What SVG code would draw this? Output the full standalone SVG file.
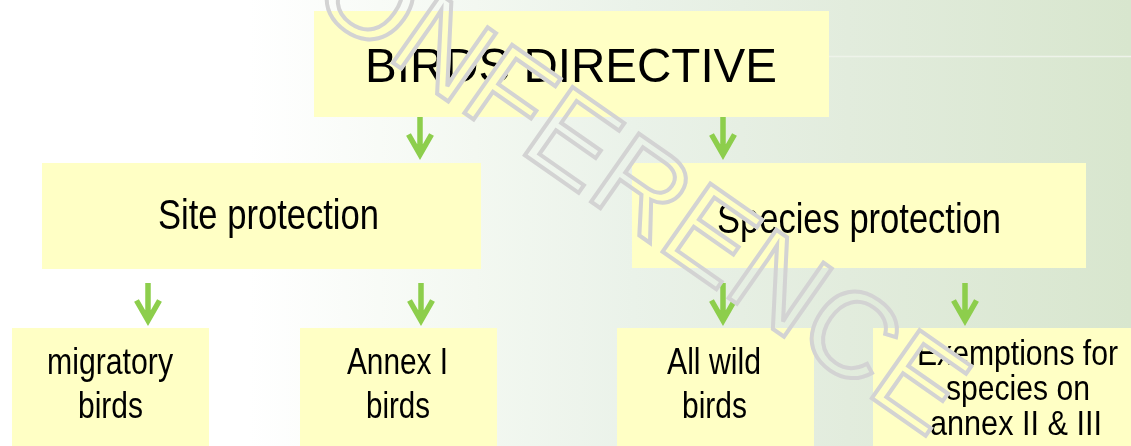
<svg xmlns="http://www.w3.org/2000/svg" width="1131" height="446" viewBox="0 0 1131 446">
  <style>
    .box { fill: #ffffc5; }
    .lbl { font-family: "Liberation Sans", Arial, sans-serif; fill: #000; text-anchor: middle; mask: url(#hole); }
    .arrow { fill: none; stroke: #8dce4c; stroke-width: 5.5; stroke-linejoin: miter; stroke-miterlimit: 10; }
  </style>
  <defs>
    <linearGradient id="bg" x1="0" y1="0" x2="1" y2="0">
      <stop offset="0" stop-color="#ffffff"/>
      <stop offset="0.22" stop-color="#ffffff"/>
      <stop offset="0.42" stop-color="#f3f8f1"/>
      <stop offset="0.56" stop-color="#eaf2e9"/>
      <stop offset="0.75" stop-color="#e2ecdd"/>
      <stop offset="1" stop-color="#d8e6ce"/>
    </linearGradient>
    <path id="arr" d="M0 0 V36 M-11.5 17.5 L0 37.5 L11.5 17.5"/>
    <text id="wmtext" transform="translate(236,-47) rotate(35)" x="0" y="0" font-family="Liberation Sans, Arial, sans-serif" font-size="121">CONFERENCE</text>
    <mask id="hole" maskUnits="userSpaceOnUse" x="0" y="0" width="1131" height="446">
      <rect x="0" y="0" width="1131" height="446" fill="#fff"/>
      <use href="#wmtext" fill="#000" stroke="#000" stroke-width="4"/>
    </mask>
  </defs>

  <rect x="0" y="0" width="1131" height="446" fill="url(#bg)"/>
  <line x1="829" y1="56.5" x2="1131" y2="56.5" stroke="#eef3ea" stroke-width="1.5"/>

  <g id="connectors" class="arrow">
    <use href="#arr" x="420" y="117"/>
    <use href="#arr" x="723" y="117"/>
    <use href="#arr" x="148" y="283"/>
    <use href="#arr" x="421" y="283"/>
    <use href="#arr" x="723" y="283"/>
    <use href="#arr" x="965" y="283"/>
  </g>

  <g id="birds-directive">
    <rect class="box" x="314" y="11" width="515" height="106"/>
    <text class="lbl" x="571" y="82" font-size="48" textLength="412" lengthAdjust="spacingAndGlyphs">BIRDS DIRECTIVE</text>
  </g>

  <g id="site-protection">
    <rect class="box" x="42" y="163" width="439" height="106"/>
    <text class="lbl" x="268.5" y="229" font-size="43" textLength="221" lengthAdjust="spacingAndGlyphs">Site protection</text>
  </g>

  <g id="species-protection">
    <rect class="box" x="632" y="163" width="454" height="105"/>
    <text class="lbl" x="859" y="233" font-size="43" textLength="284" lengthAdjust="spacingAndGlyphs">Species protection</text>
  </g>

  <g id="migratory-birds">
    <rect class="box" x="12" y="328" width="197" height="118"/>
    <text class="lbl" x="110" y="374" font-size="36" textLength="126" lengthAdjust="spacingAndGlyphs">migratory</text>
    <text class="lbl" x="110.5" y="418" font-size="36" textLength="65" lengthAdjust="spacingAndGlyphs">birds</text>
  </g>

  <g id="annex-i-birds">
    <rect class="box" x="300" y="328" width="197" height="118"/>
    <text class="lbl" x="397.5" y="374" font-size="36" textLength="101" lengthAdjust="spacingAndGlyphs">Annex I</text>
    <text class="lbl" x="398" y="418" font-size="36" textLength="64" lengthAdjust="spacingAndGlyphs">birds</text>
  </g>

  <g id="all-wild-birds">
    <rect class="box" x="617" y="328" width="197" height="118"/>
    <text class="lbl" x="714" y="374" font-size="36" textLength="94" lengthAdjust="spacingAndGlyphs">All wild</text>
    <text class="lbl" x="714.5" y="418" font-size="36" textLength="65" lengthAdjust="spacingAndGlyphs">birds</text>
  </g>

  <g id="exemptions">
    <rect class="box" x="873" y="328" width="258" height="118"/>
    <text class="lbl" x="1017.5" y="365" font-size="35" textLength="201" lengthAdjust="spacingAndGlyphs">Exemptions for</text>
    <text class="lbl" x="1018" y="400" font-size="35" textLength="144" lengthAdjust="spacingAndGlyphs">species on</text>
    <text class="lbl" x="1016" y="435" font-size="35" textLength="172" lengthAdjust="spacingAndGlyphs">annex II &amp; III</text>
  </g>

  <g id="watermark">
    <use href="#wmtext" fill="none" stroke="#d3d3d3" stroke-width="4"/>
  </g>
</svg>
